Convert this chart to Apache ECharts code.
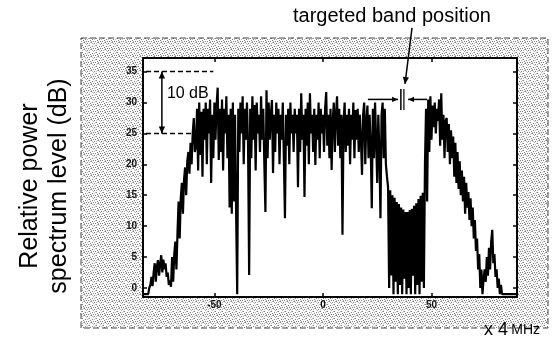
<!DOCTYPE html>
<html>
<head>
<meta charset="utf-8">
<script src="https://cdn.jsdelivr.net/npm/echarts@6/dist/echarts.min.js"></script>
<style>
  html, body { margin: 0; padding: 0; background: #fff; }
  #chart { width: 557px; height: 341px; }
</style>
</head>
<body>
<div id="chart"></div>
<script>
// spectrum samples, 0.5 unit apart (x 4 MHz), starting at -82.5
const FREQ_START = -82.5
const FREQ_STEP = 0.5

const floorLeft = [-1, -1, -1, -1, -1, 0]
const bumpsLeft = [0.5, 1.8, 0.3, 2.5, 4.0, 1.0, 3.5, 4.5, 2.0, 3.8, 5.3, 2.5, 4.6, 3.0, 4.0, 1.8, 2.5, 0.5, 1.2, 0.2]
const riseEdge = [5.0, 1.0, 5.5, 7.5, 3.0, 9.0, 14.0, 8.0, 14.5, 17.0, 12.0, 17.5, 19.5, 15.0, 20.5, 22.0, 18.5, 23.5, 20.0, 25.0, 27.5, 22.0]
const plateau = [
  23, 29, 19, 30, 21.5, 28.5, 18, 29, 24, 30,
  20, 29, 25, 30.5, 17, 28, 21, 30, 24, 29.5,
  32.4, 20.7, 29, 22, 30.5, 19, 29, 25, 31, 21,
  28, 13, 29, 12, 30, 14, 28, 12, -1, 29,
  22, 30, 25, 31, 20, 29, 24, 30, 23, 2.1,
  29, 21, 31, 24, 29.6, 19, 30, 25, 28, 22,
  31, 24, 29, 20, 12.3, 32, 21, 30, 24, 28,
  30.4, 18.6, 28, 22, 30, 25, 29, 20, 28, 24,
  30, 21, 11.3, 28, 23, 29, 20, 30, 25, 28,
  22, 29, 25, 28, 16.3, 29, 22, 31.5, 24, 28,
  14.7, 29, 23, 30, 20, 31.5, 25, 28, 22, 29,
  19.9, 28, 24, 30, 21, 29, 25, 28, 22, 29,
  31.7, 23, 28, 21, 29, 19.1, 27, 30, 22, 28,
  31, 23, 29, 21, 28, 8.6, 27, 30, 22, 28,
  23, 29, 20, 28, 24, 30, 21, 28.8, 24, 29,
  22, 28, 24, 18.3, 28, 30, 20, 27, 29.5, 21,
  28, 23, 12.9, 29, 21, 30, 24, 17, 28, 22,
  11.3, 28, 30, 21, 29, 20, 18
]
const notch = [
  16.3, 0, 15.8, 2, 15, -1, 14.6, 1, 13.9, -1,
  13.6, 0.5, 13.0, -1, 12.7, 1.5, 12.3, -1, 12.3, 0,
  12.6, -1, 12.8, 2, 13.3, -1, 13.7, 0.5, 14.4, -1,
  14.9, 1, 15.4, 0
]
const rightLobe = [20, 29, 14, 30.5, 22, 31, 24, 29.5, 26, 30, 25, 29, 27, 30.5, 23, 31.5, 24, 28, 21, 27]
const rollOff = [
  27.5, 22, 26.5, 20, 25.5, 21, 24.5, 18, 23.5, 17,
  22, 16, 20.5, 15, 19, 14, 18, 12, 17, 13,
  15.5, 11, 14.5, 10, 13, 8, 11, 6, 8, 3,
  5.5, 0, 3, -1, 1.5, 3, 1, 5, 2, 6.5,
  3, 7.5, 9.4, 4, 5.5, 1.8, 3, 0, 1.5, -1,
  0.5, -1
]
const floorRight = [-1, -1, -1, -1, -1, -1, -1, -1, -1, -1, -1, -1, -1]

const xTicks = [-50, 0, 50]
const yTicks = [0, 5, 10, 15, 20, 25, 30, 35]

const levelDb = [].concat(floorLeft, bumpsLeft, riseEdge, plateau, notch, rightLobe, rollOff, floorRight)
const spectrum = levelDb.map((v, i) => [FREQ_START + i * FREQ_STEP, v])

const X_MIN = -82.9, X_MAX = 89.4
const Y_MIN = -1.46, Y_MAX = 37.2

const FONT = 'Liberation Sans'

var chart = echarts.init(document.getElementById('chart'), null, { renderer: 'canvas' })

function frameAxis(pos, extra) {
  return Object.assign({
    type: 'value',
    position: pos,
    axisLine: { show: true, onZero: false, lineStyle: { color: '#000', width: 2 } },
    axisTick: { show: true, inside: true, length: 4, lineStyle: { color: '#000', width: 1.5 } },
    splitLine: { show: false },
    axisLabel: { show: false }
  }, extra)
}

chart.setOption({
  animation: false,
  backgroundColor: '#fff',
  grid: { left: 143, right: 40, top: 58, bottom: 44, show: true, backgroundColor: '#fff', borderWidth: 0 },
  xAxis: [
    frameAxis('bottom', {
      min: X_MIN, max: X_MAX,
      axisTick: { show: true, inside: true, length: 4, customValues: xTicks, lineStyle: { color: '#000', width: 1.5 } },
      axisLabel: { show: true, customValues: xTicks, margin: 3, color: '#111', fontFamily: FONT, fontWeight: 'bold', fontSize: 10 }
    }),
    frameAxis('top', {
      min: X_MIN, max: X_MAX,
      axisTick: { show: true, inside: true, length: 4, customValues: xTicks, lineStyle: { color: '#000', width: 1.5 } }
    })
  ],
  yAxis: [
    frameAxis('left', {
      min: Y_MIN, max: Y_MAX,
      axisTick: { show: true, inside: true, length: 4, customValues: yTicks, lineStyle: { color: '#000', width: 1.5 } },
      axisLabel: { show: true, customValues: yTicks, margin: 6, color: '#111', fontFamily: FONT, fontWeight: 'bold', fontSize: 10 }
    }),
    frameAxis('right', {
      min: Y_MIN, max: Y_MAX,
      axisTick: { show: true, inside: true, length: 4, customValues: yTicks, lineStyle: { color: '#000', width: 1.5 } }
    })
  ],
  series: [{
    type: 'line',
    data: spectrum,
    showSymbol: false,
    symbol: 'none',
    clip: true,
    sampling: null,
    lineStyle: { color: '#000', width: 2.2 },
    z: 3
  }]
})

// stipple texture for the scanned margin
var tex = document.createElement('canvas')
tex.width = 7; tex.height = 7
var tc = tex.getContext('2d')
tc.fillStyle = '#fff'; tc.fillRect(0, 0, 7, 7)
tc.fillStyle = '#7a7a7a'
;[[0, 0], [3, 1], [5, 3], [1, 4], [4, 6], [6, 5], [2, 6]].forEach(p => tc.fillRect(p[0], p[1], 1, 1))
tc.fillStyle = '#b8b8b8'
;[[2, 2], [6, 0], [0, 6], [3, 4], [5, 1], [1, 1], [4, 3]].forEach(p => tc.fillRect(p[0], p[1], 1, 1))

function pt(x, y) {
  return chart.convertToPixel({ xAxisIndex: 0, yAxisIndex: 0 }, [x, y])
}

function head(tip, dx, dy, size) {
  var w = size * 0.45
  var bx = tip[0] - dx * size, by = tip[1] - dy * size
  return {
    type: 'polygon', z: 20,
    shape: { points: [tip, [bx - dy * w, by + dx * w], [bx + dy * w, by - dx * w]] },
    style: { fill: '#000' }
  }
}

function arrow(from, to, size, both) {
  var dx = to[0] - from[0], dy = to[1] - from[1]
  var len = Math.sqrt(dx * dx + dy * dy)
  dx /= len; dy /= len
  var items = [{
    type: 'line', z: 20,
    shape: { x1: from[0], y1: from[1], x2: to[0], y2: to[1] },
    style: { stroke: '#000', lineWidth: 1.5 }
  }, head(to, dx, dy, size)]
  if (both) items.push(head(from, -dx, -dy, size))
  return items
}

function dashed(a, b) {
  return {
    type: 'line', z: 20,
    shape: { x1: a[0], y1: a[1], x2: b[0], y2: b[1] },
    style: { stroke: '#000', lineWidth: 1.5, lineDash: [5, 3] }
  }
}

var upA = pt(-81.5, 35), upB = pt(-50.5, 35)
var loA = pt(-81.5, 25), loB = pt(-46, 25)
var dbTop = pt(-74.2, 35), dbBot = pt(-74.2, 25)
var dbText = pt(-71.9, 31.4)
var markL1 = pt(35.9, 32.2), markL2 = pt(35.9, 28.8)
var markR1 = pt(37.3, 32.2), markR2 = pt(37.3, 28.8)
var inA = pt(20.7, 30.5), inB = pt(34.6, 30.5)
var inC = pt(48, 30.5), inD = pt(39.2, 30.5)
var bandTip = pt(37.8, 33)

var graphics = [
  {
    type: 'rect', z: -100,
    shape: { x: 81, y: 38, width: 467, height: 290 },
    style: { fill: { image: tex, repeat: 'repeat' }, stroke: '#444', lineWidth: 1, lineDash: [6, 3] }
  },
  dashed(upA, upB),
  dashed(loA, loB),
  {
    type: 'text', z: 20, x: dbText[0], y: dbText[1],
    style: { text: '10 dB', fill: '#000', font: '16px "Liberation Sans"', textVerticalAlign: 'middle' }
  },
  {
    type: 'line', z: 20,
    shape: { x1: markL1[0], y1: markL1[1], x2: markL2[0], y2: markL2[1] },
    style: { stroke: '#000', lineWidth: 1.5 }
  },
  {
    type: 'line', z: 20,
    shape: { x1: markR1[0], y1: markR1[1], x2: markR2[0], y2: markR2[1] },
    style: { stroke: '#000', lineWidth: 1.2 }
  },
  {
    type: 'text', x: 293, y: 16,
    style: { text: 'targeted band position', fill: '#000', font: '20px "Liberation Sans"', textVerticalAlign: 'middle' }
  },
  {
    type: 'text', x: 30, y: 186, rotation: Math.PI / 2,
    style: { text: 'Relative power', fill: '#000', font: '25px "Liberation Sans"', textAlign: 'center', textVerticalAlign: 'middle' }
  },
  {
    type: 'text', x: 59, y: 186, rotation: Math.PI / 2,
    style: { text: 'spectrum level (dB)', fill: '#000', font: '25px "Liberation Sans"', textAlign: 'center', textVerticalAlign: 'middle' }
  },
  {
    type: 'text', x: 484, y: 330, z: 5,
    style: {
      text: '{a|x 4} {b|MHz}', textVerticalAlign: 'middle',
      rich: {
        a: { fontFamily: FONT, fontSize: 18, fill: '#000', color: '#000' },
        b: { fontFamily: FONT, fontSize: 14, fill: '#000', color: '#000' }
      }
    }
  }
]
graphics = graphics.concat(
  arrow(dbBot, dbTop, 7, true),
  arrow(inA, inB, 6, false),
  arrow(inC, inD, 6, false),
  arrow([bandTip[0] + 7, bandTip[1] - 56], bandTip, 7, false)
)

chart.setOption({ graphic: graphics })
</script>
</body>
</html>
